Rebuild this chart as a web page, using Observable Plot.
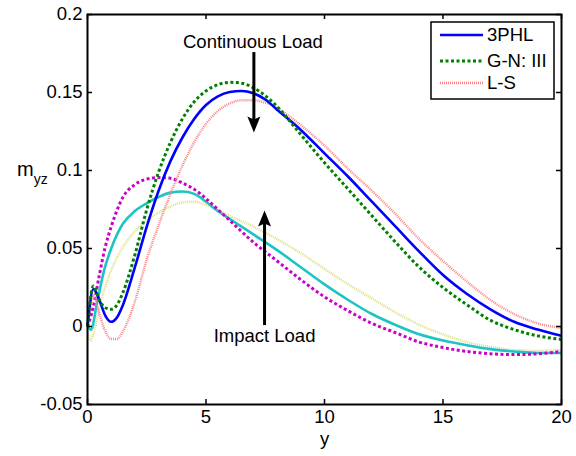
<!DOCTYPE html>
<html>
<head>
<meta charset="utf-8">
<script src="https://cdn.jsdelivr.net/npm/d3@7"></script>
<script src="https://cdn.jsdelivr.net/npm/@observablehq/plot@0.6"></script>
<style>
  html, body { margin: 0; padding: 0; background: white; }
  #chart { width: 576px; height: 456px; }
</style>
</head>
<body>
<div id="chart"></div>
<script>
// ---- Data ----
// Continuous load curves
const x3PHL = [0,0.25,0.5,0.75,1,1.25,1.5,2,2.5,3,3.5,4,4.5,5,5.5,6,6.5,7,7.5,8,9,10,11,12,13,14,15,16,17,18,19,20];
const y3PHL = [0,0.024,0.017,0.007,0.003,0.006,0.014,0.038,0.064,0.087,0.106,0.121,0.133,0.142,0.1475,0.1503,0.151,0.1495,0.1455,0.139,0.126,0.111,0.096,0.080,0.064,0.048,0.033,0.021,0.011,0.003,-0.002,-0.006];

const xGN = [0,0.25,0.5,0.75,1,1.25,1.5,2,2.5,3,3.5,4,4.5,5,5.5,6,6.5,7,7.5,8,9,10,11,12,13,14,15,16,17,18,19,20];
const yGN = [0,0.026,0.017,0.012,0.011,0.014,0.022,0.046,0.075,0.099,0.118,0.133,0.144,0.151,0.155,0.1565,0.156,0.153,0.148,0.141,0.123,0.105,0.088,0.071,0.054,0.038,0.025,0.014,0.004,-0.002,-0.006,-0.0083];

const xLS = [0,0.25,0.5,0.75,1,1.25,1.5,2,2.5,3,3.5,4,4.5,5,5.5,6,6.5,7,7.5,8,9,10,11,12,13,14,15,16,17,18,19,20];
const yLS = [0,0.020,0.008,-0.003,-0.008,-0.008,-0.003,0.016,0.043,0.065,0.085,0.103,0.118,0.130,0.138,0.143,0.145,0.145,0.1435,0.140,0.129,0.116,0.101,0.087,0.072,0.056,0.042,0.029,0.017,0.008,0.002,-0.001];

// Impact load curves
const xMag = [0,0.25,0.5,0.75,1,1.5,2,2.5,3,3.5,4,4.5,5,5.5,6,7,8,9,10,11,12,13,14,15,16,17,18,19,20];
const yMag = [0,0.013,0.033,0.051,0.064,0.083,0.091,0.0945,0.0955,0.095,0.092,0.088,0.082,0.075,0.068,0.054,0.042,0.030,0.019,0.010,0.002,-0.004,-0.010,-0.0135,-0.016,-0.0175,-0.018,-0.0175,-0.016];

const xCyan = [0,0.15,0.4,0.7,1,1.5,2,2.5,3,3.5,4,4.5,5,5.5,6,6.5,7,8,9,10,11,12,13,14,15,16,17,18,19,20];
const yCyan = [0,-0.002,0.015,0.036,0.050,0.066,0.074,0.079,0.083,0.0858,0.0865,0.085,0.080,0.074,0.069,0.064,0.059,0.049,0.038,0.027,0.017,0.008,0.001,-0.005,-0.009,-0.012,-0.0145,-0.016,-0.017,-0.017];

const xYel = [0,0.12,0.3,0.55,1,1.5,2,2.5,3,3.5,4,4.5,5,5.5,6,7,8,9,10,11,12,13,14,15,16,17,18,19,20];
const yYel = [-0.003,-0.009,-0.002,0.015,0.036,0.051,0.061,0.068,0.073,0.077,0.0795,0.080,0.078,0.075,0.071,0.064,0.056,0.047,0.037,0.027,0.018,0.009,0.001,-0.005,-0.010,-0.013,-0.015,-0.0155,-0.015];

// Legend / ticks
const legendNames = ["3PHL", "G-N: III", "L-S"];
const xTicks = [0, 5, 10, 15, 20];
const xTickLabels = ["0", "5", "10", "15", "20"];
const yTicks = [-0.05, 0, 0.05, 0.1, 0.15, 0.2];
const yTickLabels = ["-0.05", "0", "0.05", "0.1", "0.15", "0.2"];

// Annotations
const annotTexts = ["Continuous Load", "Impact Load"];
const annotX = [6.98, 7.47];
const annotY = [0.1824, -0.0064];
const arrowX = [7.02, 7.47];
const arrowFrom = [0.1756, 0.0006];
const arrowTip = [0.1244, 0.0744];

// ---- Styles ----
const styles = {
  "3PHL": {stroke: "#0000ff", strokeWidth: 2.6, dash: null},
  "G-N: III": {stroke: "#008000", strokeWidth: 3, dash: "3,2.5"},
  "L-S": {stroke: "#ff8282", strokeWidth: 2.4, dash: "1,1"},
  "mag": {stroke: "#cc00cc", strokeWidth: 3, dash: "3,2.5"},
  "cyan": {stroke: "#1cc4c4", strokeWidth: 2.6, dash: null},
  "yel": {stroke: "#dede80", strokeWidth: 2.4, dash: "1,1"}
};

function toRows(xs, ys) { return xs.map((x, i) => ({x, y: ys[i]})); }
function lineMark(xs, ys, st) {
  return Plot.line(toRows(xs, ys), {
    x: "x", y: "y", stroke: st.stroke, strokeWidth: st.strokeWidth,
    strokeDasharray: st.dash ?? undefined, strokeLinecap: "butt", curve: "monotone-x"
  });
}

const arrowHead = {
  draw(ctx, size) {
    ctx.moveTo(0, 0);
    ctx.lineTo(6.5, 16);
    ctx.lineTo(0, 13);
    ctx.lineTo(-6.5, 16);
    ctx.closePath();
  }
};

const W = 576, H = 456;
const mL = 87, mR = 15, mT = 14, mB = 52;
const innerW = W - mL - mR, innerH = H - mT - mB;
const tickLen = 5;
const arrows = arrowX.map((x, i) => ({x, y1: arrowFrom[i], tip: arrowTip[i], dir: arrowTip[i] > arrowFrom[i] ? 0 : 180}));

const chart = Plot.plot({
  width: W, height: H,
  marginLeft: mL, marginRight: mR, marginTop: mT, marginBottom: mB,
  style: {fontFamily: "'Liberation Sans', Arial, sans-serif", fontSize: "18px", background: "white", color: "black"},
  x: {domain: [0, 20], axis: null},
  y: {domain: [-0.05, 0.2], axis: null},
  marks: [
    lineMark(xYel, yYel, styles.yel),
    lineMark(xCyan, yCyan, styles.cyan),
    lineMark(xMag, yMag, styles.mag),
    lineMark(xLS, yLS, styles["L-S"]),
    lineMark(x3PHL, y3PHL, styles["3PHL"]),
    lineMark(xGN, yGN, styles["G-N: III"]),
    // ticks (inward, all four sides)
    Plot.tickX(xTicks, {x: d => d, insetTop: innerH - tickLen, stroke: "black", strokeWidth: 1.5}),
    Plot.tickX(xTicks, {x: d => d, insetBottom: innerH - tickLen, stroke: "black", strokeWidth: 1.5}),
    Plot.tickY(yTicks, {y: d => d, insetRight: innerW - tickLen, stroke: "black", strokeWidth: 1.5}),
    Plot.tickY(yTicks, {y: d => d, insetLeft: innerW - tickLen, stroke: "black", strokeWidth: 1.5}),
    // tick labels
    Plot.text(xTicks, {x: d => d, text: (d, i) => xTickLabels[i], frameAnchor: "bottom", dy: 18, fontSize: 18.5}),
    Plot.text(yTicks, {y: d => d, text: (d, i) => yTickLabels[i], frameAnchor: "left", dx: -5, textAnchor: "end", fontSize: 18.5}),
    // axis label x
    Plot.text(["y"], {frameAnchor: "bottom", dy: 40, fontSize: 18.5}),
    // annotations
    Plot.text(annotTexts, {x: (d, i) => annotX[i], y: (d, i) => annotY[i], text: d => d, fontSize: 18.5, fill: "black"}),
    Plot.ruleX(arrows, {x: "x", y1: "y1", y2: d => d.tip + (d.dir === 0 ? -0.006 : 0.006), stroke: "black", strokeWidth: 3}),
    Plot.dot(arrows, {x: "x", y: "tip", symbol: arrowHead, rotate: "dir", fill: "black", stroke: "none", r: 7}),
    Plot.frame({stroke: "black", strokeWidth: 2})
  ]
});

document.getElementById("chart").appendChild(chart);

// y-axis label with subscript, and legend box
const svg = d3.select(chart);
const yl = svg.append("text")
  .attr("x", 17).attr("y", 176).attr("text-anchor", "start")
  .attr("font-family", "'Liberation Sans', Arial, sans-serif")
  .attr("font-size", 20).attr("fill", "black");
yl.append("tspan").text("m");
yl.append("tspan").attr("font-size", 14).attr("dy", 8).text("yz");

const lg = svg.append("g");
lg.append("rect").attr("x", 431).attr("y", 22).attr("width", 123).attr("height", 77)
  .attr("fill", "white").attr("stroke", "black").attr("stroke-width", 1.5);
const legendY = [35, 61, 83];
legendNames.forEach((name, i) => {
  const st = styles[name];
  lg.append("line").attr("x1", 440).attr("x2", 483).attr("y1", legendY[i]).attr("y2", legendY[i])
    .attr("stroke", st.stroke).attr("stroke-width", st.strokeWidth)
    .attr("stroke-dasharray", st.dash);
  lg.append("text").attr("x", 487).attr("y", legendY[i]).attr("dy", "0.35em")
    .attr("text-anchor", "start")
    .attr("font-family", "'Liberation Sans', Arial, sans-serif").attr("font-size", 18.5)
    .attr("fill", "black").text(name);
});
</script>
</body>
</html>
